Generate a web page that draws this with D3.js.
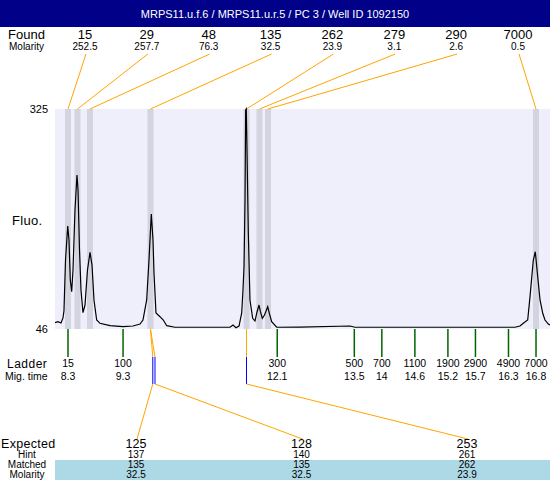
<!DOCTYPE html>
<html>
<head>
<meta charset="utf-8">
<script src="https://cdn.jsdelivr.net/npm/d3@7"></script>
<style>
  body { margin: 0; background: #fff; }
  text { font-family: "Liberation Sans", Arial, sans-serif; fill: #000; }
</style>
</head>
<body>
<div id="chart"></div>
<script>
const title = 'MRPS11.u.f.6 / MRPS11.u.r.5 / PC 3 / Well ID 1092150';

// found peaks (size, molarity, migration time)
const foundSize = [15, 29, 48, 135, 262, 279, 290, 7000];
const foundMolarity = ['252.5', '257.7', '76.3', '32.5', '23.9', '3.1', '2.6', '0.5'];
const foundTime = [8.30, 8.473, 8.70, 9.798, 11.542, 11.778, 11.932, 16.80];

// ladder
const ladderSize = [15, 100, 300, 500, 700, 1100, 1900, 2900, 4900, 7000];
const ladderTime = ['8.3', '9.3', '12.1', '13.5', '14', '14.6', '15.2', '15.7', '16.3', '16.8'];

// expected fragments
const expectedSize = [125, 128, 253];
const hintSize = [137, 140, 261];
const hintTime = [9.84, 9.88, 11.542];
const matchedIdx = [3, 3, 4];   // index into found
const matchedSize = [135, 135, 262];
const matchedMolarity = ['32.5', '32.5', '23.9'];

// electropherogram trace (migration time, fluorescence)
const traceTime = [8.064, 8.118, 8.173, 8.209, 8.227, 8.255, 8.295, 8.318, 8.342, 8.367,
  8.391, 8.427, 8.463, 8.482, 8.509, 8.536, 8.572, 8.609, 8.654, 8.700,
  8.736, 8.772, 8.821, 8.881, 9.063, 9.299, 9.481, 9.608, 9.662, 9.729,
  9.771, 9.813, 9.844, 9.862, 9.898, 9.971, 10.031, 10.093, 10.243, 10.697,
  11.242, 11.297, 11.351, 11.406, 11.455, 11.478, 11.497, 11.515, 11.527, 11.538,
  11.551, 11.575, 11.605, 11.654, 11.696, 11.733, 11.769, 11.796, 11.829, 11.869,
  11.927, 11.960, 11.999, 12.090, 12.513, 13.422, 13.512, 14.330, 16.146, 16.418,
  16.509, 16.569, 16.649, 16.691, 16.751, 16.787, 16.824, 16.873, 16.922, 16.963,
  17.023, 17.054];
const traceFluo = [54.0, 55.3, 53.6, 60.0, 69.0, 133.5, 176.6, 158.8, 108.0, 93.3,
  120.8, 196.9, 241.3, 222.3, 146.2, 95.5, 66.7, 76.4, 120.8, 143.3,
  127.2, 82.8, 57.4, 53.2, 50.2, 48.9, 49.8, 52.3, 57.4, 82.8,
  133.5, 191.8, 158.8, 117.0, 66.3, 61.6, 57.4, 50.2, 48.2, 48.2,
  48.2, 51.0, 47.6, 49.8, 66.3, 95.5, 125.0, 209.6, 323.7, 325.0,
  273.0, 167.7, 82.8, 59.6, 56.1, 67.6, 76.4, 67.6, 59.6, 63.8,
  74.3, 65.0, 55.3, 48.2, 48.5, 49.8, 48.2, 48.2, 48.2, 48.2,
  49.8, 53.2, 57.4, 87.0, 133.5, 144.0, 117.0, 82.8, 65.9, 57.4,
  52.3, 51.0];
const yTicks = [46, 325];

const width = 550, height = 480;
const plot = { left: 55, right: 550, top: 109, bottom: 329 };
const orange = '#FFA500', green = '#006400';

const svg = d3.select('#chart').append('svg')
  .attr('width', width)
  .attr('height', height);

// scales
const x = d3.scaleLinear().domain([8.064, 17.054]).range([plot.left, plot.right]);
const y = d3.scaleLinear().domain([46, 325]).range([plot.bottom, plot.top]);
const foundX = d3.scalePoint().domain(d3.range(foundSize.length)).range([85, 518]);
const expX = d3.scalePoint().domain(d3.range(expectedSize.length)).range([136, 467]);

// title bar
svg.append('rect').attr('x', 0).attr('y', 0).attr('width', width).attr('height', 27).attr('fill', '#000088');
svg.append('text').attr('x', 275).attr('y', 18).attr('text-anchor', 'middle')
  .style('font-size', '11px').style('fill', '#fff').text(title);

// found header
svg.append('text').attr('x', 8).attr('y', 39).style('font-size', '13px').text('Found');
svg.append('text').attr('x', 9).attr('y', 50).style('font-size', '10px').text('Molarity');

svg.selectAll('.found-size').data(foundSize).enter().append('text')
  .attr('x', (d, i) => foundX(i)).attr('y', 39).attr('text-anchor', 'middle')
  .style('font-size', '13px').text(d => d);
svg.selectAll('.found-mol').data(foundMolarity).enter().append('text')
  .attr('x', (d, i) => foundX(i)).attr('y', 50).attr('text-anchor', 'middle')
  .style('font-size', '10px').text(d => d);

// plot background + peak bands
svg.append('rect').attr('x', plot.left).attr('y', plot.top)
  .attr('width', plot.right - plot.left).attr('height', plot.bottom - plot.top)
  .attr('fill', '#EFEFFC');

const bandW = 0.109;
svg.selectAll('.band').data(foundTime).enter().append('rect')
  .attr('x', d => x(d - bandW / 2)).attr('y', plot.top)
  .attr('width', d => x(d + bandW / 2) - x(d - bandW / 2))
  .attr('height', plot.bottom - plot.top)
  .attr('fill', '#D4D4E0');

// connectors from found labels to bands
svg.selectAll('.found-link').data(foundTime).enter().append('line')
  .attr('x1', (d, i) => foundX(i) + 1).attr('y1', 54)
  .attr('x2', d => x(d)).attr('y2', plot.top)
  .attr('stroke', orange).attr('stroke-width', 1);

// trace
svg.append('clipPath').attr('id', 'clip').append('rect')
  .attr('x', plot.left).attr('y', plot.top - 2)
  .attr('width', plot.right - plot.left).attr('height', plot.bottom - plot.top + 2);

const line = d3.line().x(d => x(d[0])).y(d => y(d[1]));
svg.append('path')
  .datum(traceTime.map((t, i) => [t, traceFluo[i]]))
  .attr('clip-path', 'url(#clip)')
  .attr('d', line)
  .attr('fill', 'none').attr('stroke', '#000').attr('stroke-width', 1.2);

// y labels
svg.selectAll('.ytick').data(yTicks).enter().append('text')
  .attr('x', 48).attr('y', d => y(d) + 4).attr('text-anchor', 'end')
  .style('font-size', '11px').text(d => d);
svg.append('text').attr('x', 12).attr('y', 225).style('font-size', '13px')
  .style('letter-spacing', '0.3px').text('Fluo.');

// ladder ticks
svg.selectAll('.ladder-tick').data(ladderTime).enter().append('line')
  .attr('x1', d => x(+d)).attr('x2', d => x(+d))
  .attr('y1', plot.bottom).attr('y2', 357)
  .attr('stroke', green).attr('stroke-width', 1.5);
svg.selectAll('.ladder-size').data(ladderSize).enter().append('text')
  .attr('x', (d, i) => x(+ladderTime[i])).attr('y', 367).attr('text-anchor', 'middle')
  .style('font-size', '10.5px').text(d => d);
svg.selectAll('.ladder-time').data(ladderTime).enter().append('text')
  .attr('x', d => x(+d)).attr('y', 380).attr('text-anchor', 'middle')
  .style('font-size', '10.5px').text(d => d);
svg.append('text').attr('x', 7).attr('y', 368).style('font-size', '12px')
  .style('letter-spacing', '0.5px').text('Ladder');
svg.append('text').attr('x', 5).attr('y', 380).style('font-size', '10.5px').text('Mig. time');

// matched peak -> hint -> expected
svg.selectAll('.match-link').data(hintTime).enter().append('line')
  .attr('x1', (d, i) => x(foundTime[matchedIdx[i]])).attr('y1', plot.bottom)
  .attr('x2', d => x(d)).attr('y2', 357)
  .attr('stroke', orange);
svg.selectAll('.hint-line').data(hintTime).enter().append('line')
  .attr('x1', d => x(d)).attr('x2', d => x(d))
  .attr('y1', 357).attr('y2', 384)
  .attr('stroke', '#0000FF');
svg.selectAll('.exp-link').data(hintTime).enter().append('line')
  .attr('x1', d => x(d)).attr('y1', 384)
  .attr('x2', (d, i) => expX(i) + 1).attr('y2', 439)
  .attr('stroke', orange);

// expected table
svg.append('rect').attr('x', 55).attr('y', 460).attr('width', width - 55).attr('height', 20)
  .attr('fill', '#ADD8E6');

const rows = [
  { label: 'Hint', vals: hintSize, y: 458 },
  { label: 'Matched', vals: matchedSize, y: 468 },
  { label: 'Molarity', vals: matchedMolarity, y: 478 }
];
svg.append('text').attr('x', 1).attr('y', 448).style('font-size', '12.5px')
  .style('letter-spacing', '0.3px').text('Expected');
svg.selectAll('.exp-size').data(expectedSize).enter().append('text')
  .attr('x', (d, i) => expX(i)).attr('y', 448).attr('text-anchor', 'middle')
  .style('font-size', '12.5px').text(d => d);

rows.forEach(r => {
  svg.append('text').attr('x', 27).attr('y', r.y).attr('text-anchor', 'middle')
    .style('font-size', '10px').text(r.label);
  svg.selectAll(null).data(r.vals).enter().append('text')
    .attr('x', (d, i) => expX(i)).attr('y', r.y).attr('text-anchor', 'middle')
    .style('font-size', '10px').text(d => d);
});
</script>
</body>
</html>
